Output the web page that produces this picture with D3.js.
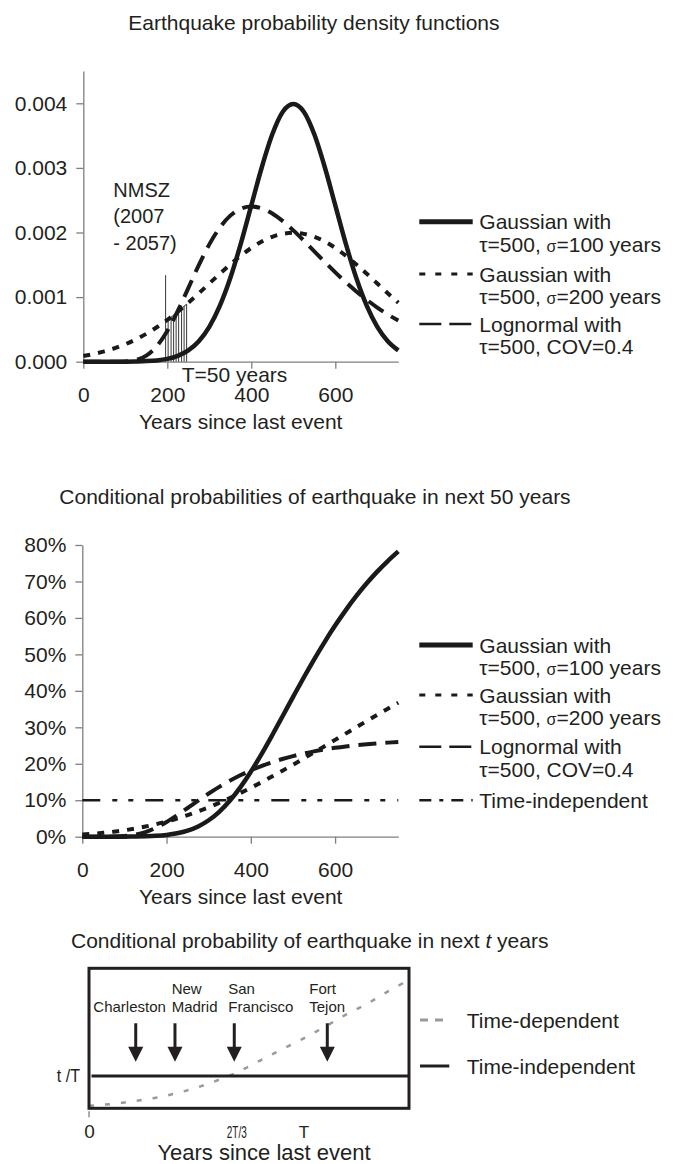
<!DOCTYPE html>
<html>
<head>
<meta charset="utf-8">
<title>Earthquake probabilities</title>
<script src="https://cdn.jsdelivr.net/npm/d3@7"></script>
<style>
  body { margin: 0; background: #fff; }
  svg { display: block; font-family: "Liberation Sans", Arial, Helvetica, sans-serif; }
</style>
</head>
<body>
<script>
// ---- values ----
const years = [0, 25, 50, 75, 100, 125, 150, 175, 200, 225, 250, 275, 300, 325, 350, 375,
  400, 425, 450, 475, 500, 525, 550, 575, 600, 625, 650, 675, 700, 725, 750];

// panel 1: probability density
const pdfGauss100 = [0, 0, 0, 0, 0.000001, 0.000004, 0.000009, 0.00002, 0.000044, 0.000091,
  0.000175, 0.000317, 0.00054, 0.000864, 0.001295, 0.001827, 0.00242, 0.00301, 0.00352, 0.00387,
  0.00399, 0.00387, 0.00352, 0.00301, 0.00242, 0.001827, 0.001295, 0.000864, 0.00054, 0.000317, 0.000175];
const pdfGauss200 = [0.000088, 0.000119, 0.000159, 0.000209, 0.00027, 0.000344, 0.000432, 0.000533,
  0.000648, 0.000775, 0.000913, 0.001059, 0.00121, 0.00136, 0.001506, 0.001641, 0.001761, 0.00186,
  0.001934, 0.001979, 0.001995, 0.001979, 0.001934, 0.00186, 0.001761, 0.001641, 0.001506, 0.00136,
  0.00121, 0.001059, 0.000913];
const pdfLognormal = [0, 0, 0, 0, 0.000004, 0.000025, 0.000094, 0.00024, 0.000475, 0.000786,
  0.00114, 0.001495, 0.001816, 0.002076, 0.002261, 0.002369, 0.002403, 0.002373, 0.002294, 0.002176,
  0.002033, 0.001875, 0.001709, 0.001544, 0.001383, 0.00123, 0.001088, 0.000957, 0.000838, 0.000731, 0.000636];

// NMSZ window 2007-2057 (years since 1811-12)
const nmszYears = [196, 202, 209, 215, 221, 227, 234, 240, 246];
const nmszTops = [0.00063, 0.00066, 0.00069, 0.00072, 0.00076, 0.00078, 0.00082, 0.00086, 0.00089];
const nmszMarkerTop = 0.00134;

// panel 2: conditional probability in next 50 years
const condGauss100 = [0, 0, 0, 0.00005, 0.0002, 0.0005, 0.0011, 0.0024, 0.0049, 0.0093,
  0.0166, 0.0282, 0.0451, 0.0683, 0.0984, 0.1353, 0.1781, 0.2258, 0.2769, 0.3297,
  0.3829, 0.4353, 0.4858, 0.5338, 0.5789, 0.6208, 0.6595, 0.695, 0.727, 0.7561, 0.7826];
const condGauss200 = [0.0061, 0.0081, 0.0107, 0.0138, 0.0177, 0.0224, 0.0279, 0.0343, 0.0416, 0.0499,
  0.0593, 0.0696, 0.0808, 0.0929, 0.1059, 0.1197, 0.1341, 0.1492, 0.1649, 0.181,
  0.1974, 0.2142, 0.2311, 0.2483, 0.2655, 0.2827, 0.2999, 0.3171, 0.3341, 0.3509, 0.3676];
const condLognormal = [0, 0, 0, 0.0003, 0.0017, 0.0053, 0.0128, 0.0245, 0.0402, 0.0588,
  0.0787, 0.0989, 0.1184, 0.1367, 0.1533, 0.1684, 0.1818, 0.1936, 0.2041, 0.2132,
  0.2211, 0.228, 0.234, 0.2392, 0.2437, 0.2476, 0.2508, 0.2536, 0.256, 0.258, 0.2597];
const indepYears = [0, 750];
const condIndependent = [0.1, 0.1];

const yearTicks = [0, 200, 400, 600];
const pdfTicks = [0, 0.001, 0.002, 0.003, 0.004];
const condTicks = [0, 0.1, 0.2, 0.3, 0.4, 0.5, 0.6, 0.7, 0.8];

const legendLabels = [
  ["Gaussian with", "τ=500, σ=100 years"],
  ["Gaussian with", "τ=500, σ=200 years"],
  ["Lognormal with", "τ=500, COV=0.4"],
  ["Time-independent"]
];

// panel 3: schematic, x in units of T, y in units of t/T
const tdX = [0, 0.1, 0.2, 0.3, 0.4, 0.5, 0.6, 0.7, 0.8, 0.9, 1.0, 1.1, 1.2, 1.3, 1.4, 1.5];
const tdY = [0.08, 0.13, 0.21, 0.31, 0.45, 0.63, 0.86, 1.13, 1.47, 1.81, 2.14, 2.5, 2.88, 3.22, 3.61, 3.97];
const indepLevel = 1;
const siteTop = ["", "New", "San", "Fort"];
const siteBottom = ["Charleston", "Madrid", "Francisco", "Tejon"];
const sitePos = [0.219, 0.403, 0.681, 1.117];
const schematicTicks = [0, 2 / 3, 1];
const schematicTickLabels = ["0", "2T/3", "T"];
const schematicLegend = ["Time-dependent", "Time-independent"];

// ---- drawing ----
const ink = "#231f20";
const axisGray = "#7f7f7f";

const svg = d3.select("body").append("svg").attr("width", 682).attr("height", 1164);

const seriesStyle = [
  { width: 4.5, dash: null },
  { width: 4, dash: "7,8" },
  { width: 4, dash: "18,9" },
  { width: 2.5, dash: "18,12,5,11,5,12" }
];
const legendStyle = [
  { width: 5, dash: null },
  { width: 3, dash: "6,10" },
  { width: 2.5, dash: "22,8" },
  { width: 2.5, dash: "12,8,4,8" }
];

function addTitle(x, y, parts) {
  const t = svg.append("text").attr("x", x).attr("y", y).attr("font-size", 21).attr("fill", ink);
  parts.forEach((p) => {
    t.append("tspan").attr("font-style", p.italic ? "italic" : null).text(p.text);
  });
}

function labelWithSigma(sel, str) {
  const bits = str.split("σ");
  bits.forEach((b, i) => {
    if (i > 0) sel.append("tspan").attr("font-size", 16).text("σ");
    sel.append("tspan").text(b);
  });
}

function styleAxis(g) {
  g.attr("font-family", null).attr("font-size", null);
  g.select(".domain").attr("stroke", axisGray).attr("stroke-width", 1.3);
  g.selectAll(".tick line").attr("stroke", axisGray).attr("stroke-width", 1.3);
  g.selectAll(".tick text").attr("font-size", 21).attr("fill", ink);
}

function drawPanel(cfg) {
  const x = d3.scaleLinear().domain([0, 750]).range(cfg.xRange);
  const y = d3.scaleLinear().domain(cfg.yDomain).range(cfg.yRange);

  const gx = svg.append("g")
    .attr("transform", `translate(0,${y(0)})`)
    .call(d3.axisBottom(x).tickValues(yearTicks).tickSize(7).tickSizeOuter(0).tickPadding(18.6)
      .tickFormat(d3.format("d")));
  styleAxis(gx);

  const gy = svg.append("g")
    .attr("transform", `translate(${x(0)},0)`)
    .call(d3.axisLeft(y).tickValues(cfg.yTicks).tickSize(7).tickSizeOuter(0).tickPadding(9)
      .tickFormat(d3.format(cfg.yFormat)));
  styleAxis(gy);

  svg.append("text")
    .attr("x", 240.7)
    .attr("y", y(0) + 67.5)
    .attr("text-anchor", "middle")
    .attr("font-size", 21)
    .attr("fill", ink)
    .text("Years since last event");

  if (cfg.before) cfg.before(x, y);

  for (let i = cfg.series.length - 1; i >= 0; i--) {
    const s = cfg.series[i];
    const line = d3.line()
      .x((d, j) => x(s.xs[j]))
      .y((d) => y(d))
      .curve(d3.curveMonotoneX);
    svg.append("path")
      .datum(s.values)
      .attr("d", line)
      .attr("fill", "none")
      .attr("stroke", "#1a1a1a")
      .attr("stroke-width", seriesStyle[i].width)
      .attr("stroke-dasharray", seriesStyle[i].dash);
  }

  const lg = svg.append("g");
  cfg.series.forEach((s, i) => {
    const ly = cfg.legendY[i];
    lg.append("line")
      .attr("x1", 419.3).attr("x2", 472.7)
      .attr("y1", ly).attr("y2", ly)
      .attr("stroke", "#1a1a1a")
      .attr("stroke-width", legendStyle[i].width)
      .attr("stroke-dasharray", legendStyle[i].dash);
    legendLabels[i].forEach((txt, k) => {
      const t = lg.append("text")
        .attr("x", 479.3)
        .attr("y", ly + 7.5 + k * 22.5)
        .attr("font-size", 21)
        .attr("fill", ink);
      labelWithSigma(t, txt);
    });
  });
}

// panel 1
addTitle(128.3, 30, [{ text: "Earthquake probability density functions" }]);
drawPanel({
  xRange: [83.3, 398.3],
  yRange: [361.7, 71],
  yDomain: [0, 0.0045],
  yTicks: pdfTicks,
  yFormat: ".3f",
  legendY: [221.7, 274, 324],
  series: [
    { xs: years, values: pdfGauss100 },
    { xs: years, values: pdfGauss200 },
    { xs: years, values: pdfLognormal }
  ],
  before: (x, y) => {
    const hatch = svg.append("g");
    hatch.selectAll("line")
      .data(nmszYears)
      .join("line")
      .attr("x1", (d) => x(d))
      .attr("x2", (d) => x(d))
      .attr("y1", y(0))
      .attr("y2", (d, i) => y(i === 0 ? nmszMarkerTop : nmszTops[i]))
      .attr("stroke", ink)
      .attr("stroke-width", 0.9);
    hatch.append("path")
      .datum(nmszTops)
      .attr("d", d3.line().x((d, i) => x(nmszYears[i])).y((d) => y(d)))
      .attr("fill", "none")
      .attr("stroke", ink)
      .attr("stroke-width", 1);

    const nm = svg.append("text").attr("font-size", 20).attr("fill", ink);
    ["NMSZ", "(2007", "- 2057)"].forEach((s, i) => {
      nm.append("tspan").attr("x", 113.3).attr("y", 196.7 + i * 26.7).text(s);
    });
    svg.append("text")
      .attr("x", 181.7).attr("y", 381.7)
      .attr("font-size", 21).attr("fill", ink)
      .text("T=50 years");
  }
});

// panel 2
addTitle(59.3, 504, [{ text: "Conditional probabilities of earthquake in next 50 years" }]);
drawPanel({
  xRange: [82.3, 398.3],
  yRange: [836.7, 545],
  yDomain: [0, 0.8],
  yTicks: condTicks,
  yFormat: ".0%",
  legendY: [645, 695, 746.7, 800.2],
  series: [
    { xs: years, values: condGauss100 },
    { xs: years, values: condGauss200 },
    { xs: years, values: condLognormal },
    { xs: indepYears, values: condIndependent }
  ]
});

// panel 3: schematic
addTitle(71, 948, [
  { text: "Conditional probability of earthquake in next " },
  { text: "t", italic: true },
  { text: " years" }
]);

const xB = d3.scaleLinear().domain([0, 1.5]).range([89, 409]);
const yB = d3.scaleLinear().domain([0, 4.33]).range([1108.3, 968.3]);

svg.append("path")
  .datum(tdY)
  .attr("d", d3.line().x((d, i) => xB(tdX[i])).y((d) => yB(d)).curve(d3.curveMonotoneX))
  .attr("fill", "none")
  .attr("stroke", "#9a9a9a")
  .attr("stroke-width", 2.5)
  .attr("stroke-dasharray", "5,11");

svg.append("line")
  .attr("x1", xB(0) + 2.5).attr("x2", xB(1.5))
  .attr("y1", yB(indepLevel)).attr("y2", yB(indepLevel))
  .attr("stroke", ink).attr("stroke-width", 3);

svg.append("rect")
  .attr("x", xB(0)).attr("y", yB(4.33))
  .attr("width", xB(1.5) - xB(0)).attr("height", yB(0) - yB(4.33))
  .attr("fill", "none").attr("stroke", ink).attr("stroke-width", 3);

svg.append("text")
  .attr("x", 80).attr("y", yB(indepLevel) + 6.5)
  .attr("text-anchor", "end")
  .attr("font-size", 18)
  .attr("textLength", 23.3)
  .attr("lengthAdjust", "spacingAndGlyphs")
  .attr("fill", ink)
  .text("t /T");

// arrows and site names
const arrowTop = 2.63, arrowTip = 1.44;
const siteDx = [-42.4, -3.3, -6, -18];
sitePos.forEach((p, i) => {
  const ax = xB(p);
  const tip = yB(arrowTip);
  svg.append("line")
    .attr("x1", ax).attr("x2", ax)
    .attr("y1", yB(arrowTop)).attr("y2", tip - 12)
    .attr("stroke", ink).attr("stroke-width", 3);
  svg.append("path")
    .attr("d", `M${ax - 7.5},${tip - 15}L${ax + 7.5},${tip - 15}L${ax},${tip}Z`)
    .attr("fill", ink);
  const t = svg.append("text").attr("font-size", 15).attr("fill", ink);
  t.append("tspan").attr("x", ax + siteDx[i]).attr("y", 993.7).text(siteTop[i]);
  t.append("tspan").attr("x", ax + siteDx[i]).attr("y", 1012).text(siteBottom[i]);
});

// x labels of schematic
const gxB = svg.append("g")
  .attr("transform", `translate(0,${yB(0)})`)
  .call(d3.axisBottom(xB).tickValues(schematicTicks).tickSize(0)
    .tickFormat((d, i) => schematicTickLabels[i]));
gxB.attr("font-family", null).attr("font-size", null);
gxB.select(".domain").remove();
const tickSizes = [19, 16, 17];
const tickDx = [0, 5, 1];
gxB.selectAll(".tick text")
  .attr("y", 30)
  .attr("dy", null)
  .attr("dx", (d, i) => tickDx[i])
  .attr("font-size", (d, i) => tickSizes[i])
  .attr("fill", ink)
  .each(function (d, i) {
    if (i === 1) d3.select(this).attr("textLength", 20).attr("lengthAdjust", "spacingAndGlyphs");
  });
svg.append("line")
  .attr("x1", xB(0)).attr("x2", xB(0))
  .attr("y1", yB(0) + 3).attr("y2", yB(0) + 9)
  .attr("stroke", axisGray).attr("stroke-width", 1.3);

svg.append("text")
  .attr("x", 264).attr("y", 1160)
  .attr("text-anchor", "middle")
  .attr("font-size", 22)
  .attr("fill", ink)
  .text("Years since last event");

// schematic legend
const legB = [
  { y: 1020, x2: 444, stroke: "#9a9a9a", dash: "8,7" },
  { y: 1066, x2: 449.3, stroke: ink, dash: null }
];
legB.forEach((l, i) => {
  svg.append("line")
    .attr("x1", 420).attr("x2", l.x2)
    .attr("y1", l.y).attr("y2", l.y)
    .attr("stroke", l.stroke).attr("stroke-width", 3)
    .attr("stroke-dasharray", l.dash);
  svg.append("text")
    .attr("x", 466.7).attr("y", l.y + 7.5)
    .attr("font-size", 21).attr("fill", ink)
    .text(schematicLegend[i]);
});
</script>
</body>
</html>
